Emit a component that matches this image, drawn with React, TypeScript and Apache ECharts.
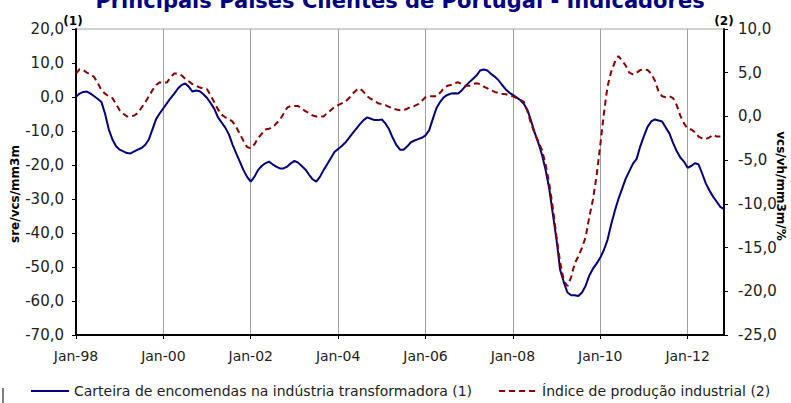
import React, { useEffect, useRef } from "react";
import * as echarts from "echarts";

// monthly data, Jan-98 .. Nov-12
const START_YEAR = 1998;
const MONTH_COUNT = 179;

const tickYears = ["98", "00", "02", "04", "06", "08", "10", "12"];

const carteira: number[] = [
  0.1, 1.0, 1.5, 1.6, 1.0, 0.2, -0.6, -1.5, -5.0, -9.5, -12.5, -14.5,
  -15.5, -16.0, -16.5, -16.6, -16.0, -15.5, -15.0, -14.1, -12.5, -9.5, -6.5, -4.8,
  -3.3, -1.8, -0.3, 1.0, 2.5, 3.5, 4.0, 3.0, 1.6, 1.9, 1.7, 0.8,
  -0.3, -1.8, -3.5, -6.0, -7.5, -9.0, -11.0, -14.0, -16.6, -19.0, -21.5, -23.5,
  -24.9, -23.5, -21.5, -20.3, -19.5, -19.0, -19.8, -20.5, -21.0, -21.0, -20.5, -19.5,
  -18.8, -19.3, -20.3, -21.3, -22.8, -24.2, -24.9, -23.5, -21.5, -19.8, -18.0, -16.2,
  -15.3, -14.4, -13.4, -12.0, -10.6, -9.3, -8.0, -6.8, -6.0, -6.4, -6.8, -6.8,
  -6.6, -7.8, -9.5, -12.0, -14.1, -15.5, -15.5, -14.5, -13.3, -12.8, -12.4, -12.0,
  -11.3, -9.8, -6.5, -3.3, -1.5, -0.1, 0.6, 1.0, 1.1, 1.0, 2.0, 3.2,
  4.3, 5.3, 6.3, 7.8, 8.1, 7.8, 6.8, 6.0, 5.0, 3.6, 2.3, 1.3,
  0.6, -0.1, -0.9, -2.0, -3.8, -7.0, -10.5, -13.5, -17.0, -21.5, -27.0, -34.5,
  -42.0, -50.9, -54.5, -57.5, -58.3, -58.3, -58.5, -57.5, -55.5, -52.5, -50.5, -49.0,
  -47.3, -45.0, -42.0, -37.5, -33.5, -30.0, -27.0, -24.0, -21.8, -19.6, -18.2, -14.5,
  -11.5, -8.8, -7.2, -6.6, -6.9, -7.2, -9.0, -10.7, -13.5, -15.9, -17.8, -19.0,
  -20.8, -20.3, -19.5, -19.8, -22.5, -25.4, -27.5, -29.3, -30.8, -32.3, -33.0,
];

const producao: (number | null)[] = [
  4.9, 5.4, 5.3, 5.0, 4.8, 4.5, 3.8, 3.0, 2.6, 2.3, 2.1, 1.4,
  0.7, 0.3, 0.0, 0.0, 0.1, 0.4, 1.0, 1.6, 2.3, 3.0, 3.6, 3.9,
  3.8, 3.9, 4.5, 4.9, 4.9, 4.7, 4.3, 4.0, 3.7, 3.5, 3.3, 3.2,
  3.1, 2.4, 1.6, 0.8, 0.2, -0.1, -0.3, -0.6, -1.2, -2.0, -2.8, -3.5,
  -3.65, -3.2, -2.5, -2.0, -1.5, -1.4, -1.3, -0.8, -0.4, 0.3, 1.0, 1.2,
  1.2, 1.2, 0.9, 0.6, 0.4, 0.1, 0.0, 0.0, 0.0, 0.4, 0.7, 1.1,
  1.3, 1.5, 1.7, 2.1, 2.6, 3.0, 3.2, 2.8, 2.3, 2.0, 1.8, 1.5,
  1.4, 1.3, 1.1, 0.9, 0.8, 0.7, 0.7, 0.9, 1.1, 1.2, 1.4, 1.8,
  2.2, 2.3, 2.3, 2.3, 2.7, 3.2, 3.5, 3.6, 3.8, 3.9, 3.7, 3.5,
  3.5, 3.7, 3.8, 3.7, 3.4, 3.2, 3.0, 2.8, 2.7, 2.6, 2.55, 2.4,
  2.3, 2.1, 1.9, 1.7, 0.6, -0.8, -1.95, -2.9, -3.85, -5.5, -7.7, -10.5,
  -13.8, -16.7, -18.8, -19.4, -18.4, -16.8, -16.0, -15.0, -13.8, -11.5, -9.5, -6.8,
  -3.3, 0.3, 3.4, 5.1, 6.2, 6.9, 6.4, 5.8, 5.0, 4.8, 5.0, 5.3,
  5.4, 5.3, 4.9, 4.1, 2.9, 2.3, 2.2, 2.3, 2.1, 1.3, 0.1, -0.8,
  -1.4, -1.5, -1.8, -2.3, -2.5, -2.6, -2.4, -2.1, -2.3, -2.3, null,
];

const months: string[] = [];
for (let i = 0; i < MONTH_COUNT; i++) {
  const y = START_YEAR + Math.floor(i / 12);
  months.push(`${i % 12}-${y}`);
}

const BLUE = "#000080";
const RED = "#8b0000";
const FONT = "DejaVu Sans";

const fmt = (v: number) => v.toFixed(1).replace(".", ",");
const everyTwoYears = (i: number) => i % 24 === 0;

const App: React.FC = () => {
  const chartRef = useRef<HTMLDivElement | null>(null);

  useEffect(() => {
    if (!chartRef.current) return;
    const chart = echarts.init(chartRef.current, undefined, { renderer: "svg" });

    const option: echarts.EChartsOption = {
      animation: false,
      backgroundColor: "#fff",
      textStyle: { fontFamily: FONT },
      grid: {
        left: 76,
        right: 67,
        top: 29,
        bottom: 68,
        show: true,
        borderColor: "#a0a0a0",
        borderWidth: 1,
      },
      legend: {
        left: 30,
        top: 384,
        padding: 0,
        itemWidth: 38,
        itemHeight: 10,
        itemGap: 26,
        itemStyle: { opacity: 0 },
        textStyle: { fontSize: 14, color: "#222", fontFamily: FONT },
        data: [
          "Carteira de encomendas na indústria transformadora (1)",
          "Índice de produção industrial (2)",
        ],
      },
      xAxis: {
        type: "category",
        data: months,
        boundaryGap: false,
        axisLine: { onZero: false, lineStyle: { color: "#000", width: 2 } },
        axisTick: { interval: everyTwoYears, length: 4, lineStyle: { color: "#000" } },
        axisLabel: {
          interval: everyTwoYears,
          margin: 14,
          fontSize: 14,
          color: "#222",
          formatter: (_v: string, i: number) => `Jan-${tickYears[i / 24] ?? ""}`,
        },
        splitLine: {
          show: true,
          interval: everyTwoYears,
          lineStyle: { color: "#a0a0a0", width: 1 },
        },
      },
      yAxis: [
        {
          type: "value",
          min: -70,
          max: 20,
          interval: 10,
          position: "left",
          axisLine: { show: true, onZero: false, lineStyle: { color: "#000", width: 2 } },
          axisTick: { show: true, length: 4, lineStyle: { color: "#000" } },
          axisLabel: { fontSize: 15, color: "#222", margin: 12, formatter: fmt },
          splitLine: { show: false },
        },
        {
          type: "value",
          min: -25,
          max: 10,
          interval: 5,
          position: "right",
          axisLine: { show: true, onZero: false, lineStyle: { color: "#000", width: 2 } },
          axisTick: { show: true, length: 4, lineStyle: { color: "#000" } },
          axisLabel: { fontSize: 15, color: "#222", margin: 14, formatter: fmt },
          splitLine: { show: false },
        },
      ],
      series: [
        {
          name: "Carteira de encomendas na indústria transformadora (1)",
          type: "line",
          yAxisIndex: 0,
          data: carteira,
          symbol: "none",
          lineStyle: { color: BLUE, width: 2 },
          itemStyle: { color: BLUE },
        },
        {
          name: "Índice de produção industrial (2)",
          type: "line",
          yAxisIndex: 1,
          data: producao,
          symbol: "none",
          lineStyle: { color: RED, width: 2, type: [6, 4] },
          itemStyle: { color: RED },
        },
      ],
      graphic: [
        {
          type: "text",
          x: 400,
          y: 1,
          style: {
            text: "Principais Países Clientes de Portugal - Indicadores",
            fill: BLUE,
            font: `bold 21px "${FONT}"`,
            align: "center",
            verticalAlign: "middle",
          },
        },
        {
          type: "text",
          x: 73,
          y: 21,
          style: {
            text: "(1)",
            fill: "#000",
            font: `bold 12px "${FONT}"`,
            align: "center",
            verticalAlign: "middle",
          },
        },
        {
          type: "text",
          x: 724,
          y: 21,
          style: {
            text: "(2)",
            fill: "#000",
            font: `bold 12px "${FONT}"`,
            align: "center",
            verticalAlign: "middle",
          },
        },
        {
          type: "text",
          x: 15,
          y: 194,
          rotation: Math.PI / 2,
          style: {
            text: "sre/vcs/mm3m",
            fill: "#000",
            font: `bold 12px "${FONT}"`,
            align: "center",
            verticalAlign: "middle",
          },
        },
        {
          type: "text",
          x: 781,
          y: 186,
          rotation: -Math.PI / 2,
          style: {
            text: "vcs/vh/mm3m/%",
            fill: "#000",
            font: `bold 12px "${FONT}"`,
            align: "center",
            verticalAlign: "middle",
          },
        },
        {
          type: "line",
          shape: { x1: 3, y1: 388, x2: 3, y2: 403 },
          style: { stroke: "#000", lineWidth: 1 },
        },
      ],
    };

    chart.setOption(option);
    return () => chart.dispose();
  }, []);

  return (
    <div
      ref={chartRef}
      style={{ position: "fixed", left: 0, top: 0, width: 791, height: 403 }}
    />
  );
};

export default App;
